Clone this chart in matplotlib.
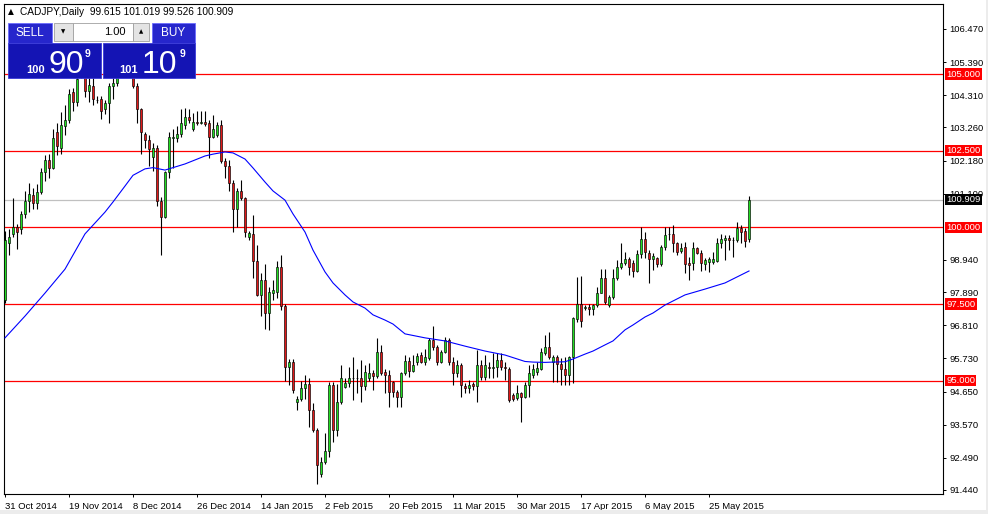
import matplotlib
matplotlib.use("Agg")
import matplotlib.pyplot as plt
from matplotlib.patches import Rectangle
import numpy as np

plt.rcParams['font.family'] = ['Liberation Sans', 'DejaVu Sans']

# daily CADJPY candles, 31 Oct 2014 .. 5 Jun 2015 (broker with sunday bars)
opens = [97.65, 99.5, 99.8, 100.0, 99.95, 100.45, 100.85, 101.05, 100.8, 101.15,
         101.8, 102.2, 101.95, 103.1, 102.6, 103.3, 103.5, 104.4, 104.1, 104.9,
         105.1, 104.45, 104.6, 104.15, 104.2, 103.85, 104.05, 104.6, 104.7, 105.0,
         105.3, 105.2, 105.0, 104.6, 103.85, 103.05, 102.85, 102.3, 102.6, 100.85,
         100.35, 101.8, 102.9, 102.9, 103.05, 103.35, 103.6, 103.2, 103.45, 103.4,
         103.45, 103.4, 102.95, 103.0, 103.35, 102.15, 102.0, 101.45, 100.6, 101.2,
         100.95, 99.7, 99.8, 98.9, 97.8, 98.3, 97.2, 97.85, 97.9, 98.7,
         97.45, 95.45, 95.6, 94.3, 94.4, 94.75, 94.9, 94.05, 93.4, 91.95,
         92.35, 92.7, 94.85, 93.4, 94.3, 94.8, 94.92, 95.08, 95.1, 95.08,
         94.83, 95.1, 95.25, 95.15, 95.93, 95.28, 95.2, 94.95, 94.64, 94.48,
         95.24, 95.64, 95.33, 95.6, 95.84, 95.6, 95.75, 96.33, 96.1, 95.6,
         95.95, 96.33, 95.6, 95.26, 95.5, 94.82, 94.75, 94.88, 94.82, 95.53,
         95.13, 95.44, 95.42, 95.44, 95.68, 95.44, 95.4, 94.53, 94.43, 94.61,
         94.46, 94.86, 95.19, 95.3, 95.37, 95.9, 96.1, 95.6, 95.76, 95.55,
         95.4, 95.19, 95.78, 97.0, 97.52, 97.38, 97.4, 97.33, 97.47, 97.87,
         98.34, 97.47, 97.72, 98.34, 98.7, 98.83, 98.97, 98.85, 98.59, 99.13,
         99.61, 99.18, 98.96, 98.99, 98.81, 99.37, 99.77, 99.79, 99.48, 99.24,
         99.35, 98.83, 98.83, 99.32, 99.18, 98.81, 98.88, 98.88, 98.92, 99.48,
         99.59, 99.64, 99.59, 99.59, 99.97, 99.89, 99.615]

highs = [99.9, 99.95, 100.95, 100.1, 100.55, 101.2, 101.45, 101.3, 101.4, 101.95,
         102.35, 102.4, 103.2, 103.4, 103.75, 104.0, 104.5, 104.55, 105.2, 105.5,
         105.4, 104.9, 105.0, 104.3, 104.3, 104.15, 104.7, 105.0, 105.3, 105.6,
         105.7, 105.5, 105.3, 104.7, 103.9, 103.1, 103.0, 102.75, 102.7, 101.0,
         101.85, 103.1, 103.2, 103.3, 103.85, 103.9, 103.85, 103.72, 103.8, 103.8,
         103.8, 103.5, 103.67, 103.45, 103.5, 102.25, 102.2, 101.55, 101.3, 101.55,
         101.0, 99.9, 100.4, 99.43, 98.5, 98.8, 98.07, 98.3, 98.9, 99.1,
         97.5, 95.7, 95.7, 94.5, 95.0, 95.2, 95.08, 94.26, 93.45, 92.52,
         93.3, 94.97, 94.97, 94.9, 95.5, 95.08, 95.45, 95.78, 95.4, 95.67,
         95.5, 95.57, 95.35, 96.38, 96.17, 95.4, 95.35, 95.0, 94.7, 95.3,
         95.84, 95.78, 95.84, 95.9, 95.95, 96.05, 96.38, 96.79, 96.16, 96.0,
         96.44, 96.38, 95.78, 95.68, 95.57, 94.92, 95.02, 94.95, 96.0, 95.68,
         95.84, 95.62, 95.9, 95.92, 95.9, 95.62, 95.46, 94.59, 94.86, 94.64,
         94.97, 95.51, 95.55, 95.6, 96.06, 96.49, 96.6, 95.85, 95.85, 95.73,
         95.78, 95.8, 97.09, 98.4, 98.42, 97.47, 97.52, 97.52, 98.07, 98.66,
         98.63, 97.8, 98.66, 98.94, 99.48, 99.2, 99.05, 98.94, 99.26, 100.0,
         99.86, 99.26, 99.16, 99.05, 99.43, 100.02, 100.02, 100.08, 99.53, 99.48,
         99.53, 99.05, 99.53, 99.37, 99.26, 98.99, 99.05, 99.21, 99.64, 99.8,
         99.75, 99.75, 99.7, 100.19, 100.08, 99.97, 101.019]

lows = [97.55, 99.1, 99.7, 99.3, 99.8, 100.3, 100.5, 100.6, 100.6, 101.1,
        101.5, 101.6, 101.9, 102.35, 102.4, 103.0, 103.4, 103.8, 103.95, 104.88,
        104.25, 104.1, 104.0, 104.05, 103.55, 103.7, 103.4, 104.2, 104.6, 104.95,
        104.95, 104.95, 104.55, 103.4, 102.4, 102.6, 102.0, 101.85, 100.7, 99.1,
        100.3, 101.6, 101.95, 102.8, 102.95, 103.2, 103.4, 103.15, 103.35, 103.37,
        103.3, 102.25, 102.9, 102.95, 102.1, 101.6, 101.2, 99.85, 100.0, 100.9,
        99.7, 99.6, 98.35, 97.75, 97.1, 96.7, 96.65, 97.65, 97.7, 97.3,
        95.0, 94.85, 94.6, 94.05, 94.35, 94.4, 93.5, 93.34, 91.65, 91.87,
        92.3, 92.5, 93.0, 93.2, 94.25, 94.75, 94.8, 94.37, 94.6, 94.32,
        94.7, 95.0, 94.7, 95.08, 95.2, 94.6, 94.13, 94.48, 94.15, 94.13,
        95.2, 95.11, 95.3, 95.5, 95.57, 95.5, 95.68, 96.0, 95.5, 95.57,
        95.9, 95.5, 94.86, 95.13, 94.48, 94.59, 94.59, 94.7, 94.32, 95.02,
        95.02, 95.08, 95.08, 95.13, 95.35, 95.02, 94.32, 94.35, 94.37, 93.67,
        94.43, 94.48, 95.08, 95.2, 95.35, 95.85, 95.7, 94.95, 94.97, 94.86,
        94.86, 94.86, 94.92, 96.93, 96.76, 97.3, 97.14, 97.14, 97.42, 97.85,
        97.52, 97.4, 97.68, 98.28, 98.66, 98.77, 98.45, 98.37, 98.56, 98.99,
        98.99, 98.2, 98.6, 98.7, 98.74, 99.26, 99.59, 99.21, 99.1, 99.16,
        98.5, 98.3, 98.61, 99.15, 98.59, 98.61, 98.56, 98.81, 98.88, 99.32,
        98.94, 99.26, 99.05, 99.54, 99.48, 99.37, 99.526]

closes = [99.6, 99.7, 100.0, 99.85, 100.45, 100.85, 101.1, 100.8, 101.15, 101.8,
          102.2, 101.95, 102.9, 102.65, 103.35, 103.5, 104.35, 104.1, 104.85, 105.25,
          104.45, 104.65, 104.2, 104.17, 103.8, 104.05, 104.6, 104.7, 105.0, 105.3,
          105.2, 105.1, 104.6, 103.85, 103.1, 102.85, 102.55, 102.6, 100.85, 100.35,
          101.8, 102.95, 102.95, 103.05, 103.4, 103.6, 103.5, 103.45, 103.4, 103.45,
          103.38, 102.95, 103.2, 103.35, 102.15, 102.0, 101.45, 100.6, 101.2, 100.95,
          99.85, 99.82, 98.9, 97.8, 98.3, 97.2, 97.9, 97.95, 98.7, 97.45,
          95.45, 95.6, 94.7, 94.4, 94.75, 94.9, 94.05, 93.4, 92.25, 92.35,
          92.7, 94.85, 93.4, 94.3, 95.1, 94.92, 95.08, 95.1, 95.08, 94.83,
          95.3, 95.25, 95.15, 95.93, 95.26, 95.2, 94.65, 94.65, 94.48, 95.24,
          95.64, 95.33, 95.53, 95.8, 95.62, 95.77, 96.33, 96.1, 95.6, 95.95,
          96.33, 95.6, 95.26, 95.5, 94.86, 94.78, 94.86, 94.82, 95.53, 95.13,
          95.53, 95.42, 95.45, 95.68, 95.46, 95.42, 94.37, 94.4, 94.61, 94.46,
          94.86, 95.24, 95.37, 95.42, 95.93, 96.1, 95.78, 95.78, 95.55, 95.4,
          95.19, 95.78, 97.04, 97.52, 96.96, 97.42, 97.33, 97.47, 97.87, 98.34,
          97.58, 97.74, 98.34, 98.7, 98.85, 98.97, 98.72, 98.59, 99.13, 99.61,
          99.2, 98.96, 99.07, 98.81, 99.37, 99.75, 99.8, 99.48, 99.2, 99.32,
          98.81, 98.79, 99.32, 99.18, 98.83, 98.94, 98.96, 98.96, 99.5, 99.61,
          99.64, 99.59, 99.6, 99.97, 99.86, 99.57, 100.909]

# moving average
ma_bars = [0, 5, 10, 15, 20, 25, 27, 30, 32, 35, 37, 40, 45, 50, 52, 55, 57, 60, 62,
           65, 67, 70, 72, 75, 77, 80, 82, 85, 87, 90, 92, 95, 97, 100, 105, 110,
           115, 120, 125, 130, 132, 135, 137, 140, 142, 145, 147, 150, 152, 155, 157,
           160, 162, 165, 170, 175, 180, 186]
ma_vals = [96.40, 97.11, 97.86, 98.64, 99.79, 100.50, 100.83, 101.35, 101.70, 101.91,
           101.95, 101.87, 102.07, 102.33, 102.39, 102.46, 102.43, 102.23, 101.94,
           101.48, 101.19, 100.89, 100.44, 99.85, 99.26, 98.55, 98.19, 97.80, 97.57,
           97.37, 97.15, 96.98, 96.85, 96.53, 96.40, 96.30, 96.13, 95.97, 95.84,
           95.63, 95.61, 95.60, 95.61, 95.62, 95.71, 95.87, 95.97, 96.17, 96.30,
           96.66, 96.82, 97.08, 97.21, 97.47, 97.80, 97.99, 98.19, 98.58]

levels = [105.0, 102.5, 100.0, 97.5, 95.0]
last_price = 100.909
price_ticks = [106.47, 105.39, 104.31, 103.26, 102.18, 101.10, 98.94,
               97.89, 96.81, 95.73, 94.65, 93.57, 92.49, 91.44]
date_labels = ['31 Oct 2014', '19 Nov 2014', '8 Dec 2014', '26 Dec 2014', '14 Jan 2015',
               '2 Feb 2015', '20 Feb 2015', '11 Mar 2015', '30 Mar 2015', '17 Apr 2015',
               '6 May 2015', '25 May 2015']
label_step = 16

W, H = 988, 514
fig = plt.figure(figsize=(W / 100, H / 100), dpi=100)
fig.patch.set_facecolor('white')
ax = fig.add_axes([4 / W, 1 - 494 / H, 939 / W, 490 / H])

o = np.array(opens)
c = np.array(closes)
idx = np.arange(len(c))
up = c >= o

ax.vlines(idx, lows, highs, color='black', linewidth=0.8, zorder=3)
ax.bar(idx[up], (c - o)[up], bottom=o[up], width=0.72, color='#22dd22',
       edgecolor='black', linewidth=0.45, zorder=4)
ax.bar(idx[~up], (c - o)[~up], bottom=o[~up], width=0.72, color='#e01818',
       edgecolor='black', linewidth=0.45, zorder=4)

ax.plot(ma_bars, ma_vals, color='#0000ff', linewidth=0.8, zorder=5)

for lv in levels:
    ax.axhline(lv, color='#ff0000', linewidth=0.9, zorder=2)
ax.axhline(last_price, color='#c0c0c0', linewidth=0.9, zorder=1)

ax.set_xlim(-0.25, 234.5)
ax.set_ylim(91.309, 107.285)

ax.yaxis.tick_right()
ax.set_yticks(price_ticks)
ax.set_yticklabels(['%.3f' % t for t in price_ticks])
ax.tick_params(axis='y', direction='out', length=2.5, width=0.7, pad=2,
               labelsize=6.8, colors='black')

ax.set_xticks([i * label_step for i in range(len(date_labels))])
ax.set_xticklabels(date_labels, ha='left')
ax.tick_params(axis='x', direction='out', length=2.5, width=0.7, pad=3,
               labelsize=6.8)

for s in ax.spines.values():
    s.set_linewidth(0.8)
    s.set_color('black')

ytr = ax.get_yaxis_transform()
for lv in levels:
    ax.text(1.0035, lv, '%.3f' % lv, transform=ytr, va='center', ha='left',
            fontsize=6.8, color='white', clip_on=False, zorder=10,
            bbox=dict(boxstyle='square,pad=0.12', fc='#ff0000', ec='none'))
ax.text(1.0035, last_price, '%.3f' % last_price, transform=ytr, va='center', ha='left',
        fontsize=6.8, color='white', clip_on=False, zorder=10,
        bbox=dict(boxstyle='square,pad=0.12', fc='black', ec='none'))


# ---- header and one-click trading panel (pixel positions) ----
def box(x0, y0, x1, y1, **kw):
    fig.patches.append(Rectangle((x0 / W, 1 - y1 / H), (x1 - x0) / W, (y1 - y0) / H,
                                 transform=fig.transFigure, **kw))


def txt(x, y, s, **kw):
    fig.text(x / W, 1 - y / H, s, **kw)


txt(8, 12, '\u25b2', fontsize=5.5, ha='left', va='center', family='DejaVu Sans')
txt(20, 12, 'CADJPY,Daily  99.615 101.019 99.526 100.909', fontsize=7.3, ha='left',
    va='center')

box(8, 23, 52, 43, facecolor='#2626cc', edgecolor='#6a6aff', linewidth=0.6)
box(152, 23, 195, 43, facecolor='#2626cc', edgecolor='#6a6aff', linewidth=0.6)
box(54, 23, 73, 41, facecolor='#e4e4e4', edgecolor='#a0a0a0', linewidth=0.6)
box(73, 23, 133, 41, facecolor='white', edgecolor='#a0a0a0', linewidth=0.6)
box(133, 23, 149, 41, facecolor='#e4e4e4', edgecolor='#a0a0a0', linewidth=0.6)
box(8, 43, 101, 78, facecolor='#1414b4', edgecolor='#3a3ad8', linewidth=0.6)
box(103, 43, 195, 78, facecolor='#1414b4', edgecolor='#3a3ad8', linewidth=0.6)

txt(30, 33, 'SELL', fontsize=8.5, color='white', ha='center', va='center')
txt(173, 33, 'BUY', fontsize=8.5, color='white', ha='center', va='center')
txt(63, 32, '\u25bc', fontsize=4, ha='center', va='center', family='DejaVu Sans')
txt(141, 32, '\u25b2', fontsize=4, ha='center', va='center', family='DejaVu Sans')
txt(126, 32, '1.00', fontsize=8, ha='right', va='center')

txt(45, 73, '100', fontsize=8, color='white', ha='right', va='baseline', weight='bold')
txt(48, 73, '90', fontsize=23, color='white', ha='left', va='baseline')
txt(85, 57, '9', fontsize=7.5, color='white', ha='left', va='baseline', weight='bold')
txt(138, 73, '101', fontsize=8, color='white', ha='right', va='baseline', weight='bold')
txt(142, 73, '10', fontsize=23, color='white', ha='left', va='baseline')
txt(180, 57, '9', fontsize=7.5, color='white', ha='left', va='baseline', weight='bold')

# window frame
box(0, 510, W, H, facecolor='#ececec', edgecolor='none')
box(986, 0, W, H, facecolor='#ececec', edgecolor='none')

fig.savefig('out.png', dpi=100)
